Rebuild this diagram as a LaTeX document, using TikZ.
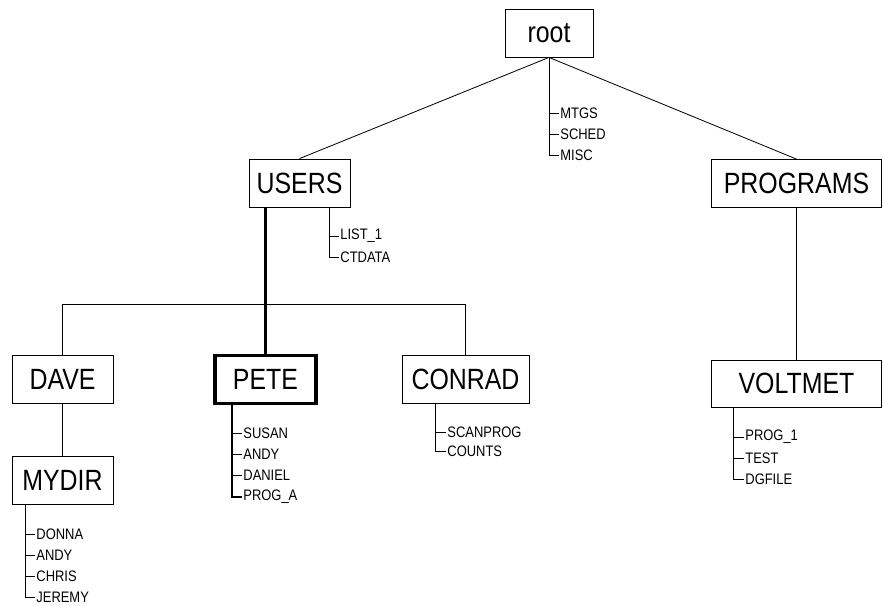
\documentclass[tikz,border=0pt]{standalone}
\usepackage{fontspec}
\setmainfont{Liberation Sans}
\newfontfamily\plotfont[FakeStretch=0.85]{Liberation Sans}
\usetikzlibrary{positioning}

\tikzset{
  dirbox/.style={draw,line width=0.7pt,minimum height=1.44cm,inner sep=0pt,
    font=\plotfont\fontsize{25}{25}\selectfont},
  fname/.style={anchor=west,inner sep=1pt,font=\plotfont\fontsize{13}{13}\selectfont},
  link/.style={line width=0.7pt},
  hilite/.style={line width=2.4pt},
}

\begin{document}
\begin{tikzpicture}[x=0.03cm,y=-0.03cm]
  \useasboundingbox (0,0) rectangle (883,605);

  % directories
  \node[dirbox,minimum width=2.64cm] (root) at (549,33) {root};
  \node[dirbox,minimum width=3.03cm] (users) at (299.5,183) {USERS};
  \node[dirbox,minimum width=5.1cm] (programs) at (796.5,183.5) {PROGRAMS};
  \node[dirbox,minimum width=3.03cm] (dave) at (62.5,379) {DAVE};
  \node[dirbox,minimum width=3.03cm] (mydir) at (62.5,480) {MYDIR};
  \node[dirbox,minimum width=3.03cm,line width=2.6pt] (pete) at (265.5,379.5) {PETE};
  \node[dirbox,minimum width=3.81cm] (conrad) at (465.5,379) {CONRAD};
  \node[dirbox,minimum width=5.1cm,minimum height=1.41cm] (voltmet) at (796.5,383.5) {VOLTMET};

  % files
  \foreach \lbl/\yy [count=\i] in {MTGS/113,SCHED/134,MISC/155}
    \node[fname] (root-\i) at (559,\yy) {\lbl};
  \foreach \lbl/\yy [count=\i] in {LIST\_1/236,CTDATA/257}
    \node[fname] (users-\i) at (339,\yy) {\lbl};
  \foreach \lbl/\yy [count=\i] in {DONNA/534,ANDY/555,CHRIS/576,JEREMY/597}
    \node[fname] (mydir-\i) at (35,\yy) {\lbl};
  \foreach \lbl/\yy [count=\i] in {SUSAN/433,ANDY/454,DANIEL/475,PROG\_A/497}
    \node[fname] (pete-\i) at (242,\yy) {\lbl};
  \foreach \lbl/\yy [count=\i] in {SCANPROG/432,COUNTS/451}
    \node[fname] (conrad-\i) at (446,\yy) {\lbl};
  \foreach \lbl/\yy [count=\i] in {PROG\_1/437,TEST/458,DGFILE/479}
    \node[fname] (voltmet-\i) at (744,\yy) {\lbl};

  \coordinate (bus) at (0,304);
  \coordinate (usertrunk) at (329,0);
  \coordinate (mydirtrunk) at (25,0);
  \coordinate (petetrunk) at (232,0);
  \coordinate (conradtrunk) at (435,0);
  \coordinate (volttrunk) at (733,0);

  % tree
  \draw[link] (root.south) -- (users.north);
  \draw[link] (root.south) -- (programs.north);
  \draw[link] (programs.south) -- (voltmet.north);
  \draw[link] (dave.south) -- (mydir.north);
  \draw[link] (dave.north) -- (dave.north |- bus) -- (conrad.north |- bus) -- (conrad.north);
  \draw[hilite] (pete.north |- users.south) -- (pete.north);

  % file lists
  \draw[link] (root.south) |- (root-3.west);
  \foreach \i in {1,2}
    \draw[link] (root.south |- root-\i.west) -- (root-\i.west);

  \draw[link] (usertrunk |- users.south) |- (users-2.west);
  \draw[link] (usertrunk |- users-1.west) -- (users-1.west);

  \draw[link] (mydirtrunk |- mydir.south) |- (mydir-4.west);
  \foreach \i in {1,2,3}
    \draw[link] (mydirtrunk |- mydir-\i.west) -- (mydir-\i.west);

  \draw[hilite] (petetrunk |- pete.south) |- (pete-4.west);
  \foreach \i in {1,2,3}
    \draw[link] (petetrunk |- pete-\i.west) -- (pete-\i.west);

  \draw[link] (conradtrunk |- conrad.south) |- (conrad-2.west);
  \draw[link] (conradtrunk |- conrad-1.west) -- (conrad-1.west);

  \draw[link] (volttrunk |- voltmet.south) |- (voltmet-3.west);
  \foreach \i in {1,2}
    \draw[link] (volttrunk |- voltmet-\i.west) -- (voltmet-\i.west);
\end{tikzpicture}
\end{document}
